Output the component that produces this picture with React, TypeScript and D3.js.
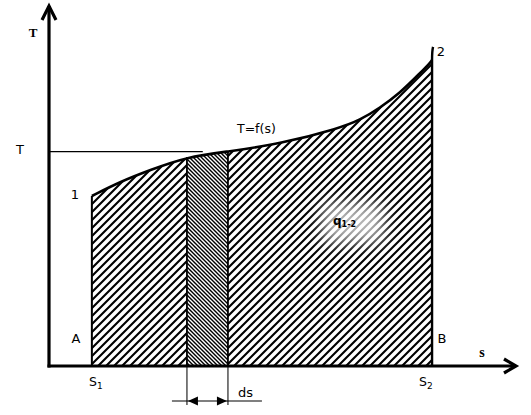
import React from "react";
import * as d3 from "d3";

// T = f(s) curve (s and T in 0..100 units)
const curveS = [9.2, 15.2, 21.7, 29.6, 38.4, 49.6, 62.4, 66.7, 71.0, 75.3, 79.6, 81.8, 82.2];
const curveT = [47.1, 51.0, 54.3, 57.9, 59.4, 61.5, 65.9, 68.1, 71.5, 75.6, 81.1, 84.0, 84.8];

const s1 = 9.2;
const s2 = 82.2;
const stripFrom = 29.6;
const stripTo = 38.4;
const tLevel = 59.4;
const tLevelEnd = 33.0;
const point2Top = 88.4;

const W = 531;
const H = 415;
const font = "'DejaVu Sans', Verdana, sans-serif";

const App = () => {
  const x = d3.scaleLinear().domain([0, 100]).range([49, 515]);
  const y = d3.scaleLinear().domain([0, 100]).range([366, 5]);

  const pts: [number, number][] = curveS.map((s, i) => [s, curveT[i]]);

  const area = d3
    .area<[number, number]>()
    .x(d => x(d[0]))
    .y0(y(0))
    .y1(d => y(d[1]))
    .curve(d3.curveBasis);

  const line = d3
    .line<[number, number]>()
    .x(d => x(d[0]))
    .y(d => y(d[1]))
    .curve(d3.curveBasis);

  const areaPath = area(pts) || "";

  // T value on the curve at a given s (for the strip edges)
  const tAt = (s: number) => {
    const i = d3.bisectLeft(curveS, s);
    if (i <= 0) return curveT[0];
    const a = curveS[i - 1], b = curveS[i];
    const k = (s - a) / (b - a || 1);
    return curveT[i - 1] + k * (curveT[i] - curveT[i - 1]);
  };

  const x0 = x(0), yAxis = y(0);
  const dimY = 401;

  return (
    <svg width={W} height={H} style={{position: "absolute", left: 0, top: 0, background: "#fff"}}
         fontFamily={font}>
      <defs>
        <pattern id="hatch" patternUnits="userSpaceOnUse" width="8" height="8">
          <path d="M-2,2 L2,-2 M0,8 L8,0 M6,10 L10,6" stroke="#000" strokeWidth="2.1"/>
        </pattern>
        <pattern id="hatchFine" patternUnits="userSpaceOnUse" width="4" height="4">
          <path d="M-1,-1 L5,5 M-1,3 L1,5 M3,-1 L5,1" stroke="#000" strokeWidth="1.4"/>
        </pattern>
        <clipPath id="strip">
          <rect x={x(stripFrom)} y={0} width={x(stripTo) - x(stripFrom)} height={yAxis}/>
        </clipPath>
        <filter id="blur" x="-50%" y="-50%" width="200%" height="200%">
          <feGaussianBlur stdDeviation="8"/>
        </filter>
      </defs>

      {/* hatched area under the curve */}
      <path d={areaPath} fill="url(#hatch)"/>
      <g clipPath="url(#strip)">
        <path d={areaPath} fill="#fff"/>
        <path d={areaPath} fill="url(#hatchFine)"/>
      </g>

      {/* fuzzy white behind q label */}
      <rect x={322} y={203} width={62} height={40} fill="#fff" opacity={0.7} filter="url(#blur)"/>

      {/* curve */}
      <path d={line(pts) || ""} fill="none" stroke="#000" strokeWidth={2.6}/>

      {/* left and right boundaries */}
      <line x1={x(s1)} x2={x(s1)} y1={y(curveT[0])} y2={yAxis} stroke="#000" strokeWidth={2}/>
      <path d={`M${x(s2)},${yAxis} L${x(s2)},${y(curveT[curveT.length - 1])} Q${x(s2)},${y(point2Top) + 4} ${x(s2) + 1},${y(point2Top)}`}
            fill="none" stroke="#000" strokeWidth={2.4}/>

      {/* strip edges and dimension */}
      {[stripFrom, stripTo].map((s, i) => (
        <g key={i}>
          <line x1={x(s)} x2={x(s)} y1={y(tAt(s))} y2={yAxis} stroke="#000" strokeWidth={1.8}/>
          <line x1={x(s)} x2={x(s)} y1={yAxis} y2={405} stroke="#444" strokeWidth={1.4}/>
        </g>
      ))}
      <line x1={x(stripFrom) - 15} x2={x(stripTo) + 34} y1={dimY} y2={dimY} stroke="#000" strokeWidth={1.2}/>
      <path d={`M${x(stripFrom) + 1},${dimY} L${x(stripFrom) + 11},${dimY - 4.5} L${x(stripFrom) + 11},${dimY + 4.5} Z`} fill="#000"/>
      <path d={`M${x(stripTo) - 1},${dimY} L${x(stripTo) - 11},${dimY - 4.5} L${x(stripTo) - 11},${dimY + 4.5} Z`} fill="#000"/>

      {/* T level line */}
      <line x1={x0} x2={x(tLevelEnd)} y1={y(tLevel)} y2={y(tLevel)} stroke="#000" strokeWidth={1.2}/>

      {/* axes */}
      <line x1={x0} x2={x0} y1={yAxis + 1.5} y2={6} stroke="#000" strokeWidth={3.2}/>
      <path d={`M${x0 - 7},20 L${x0},6 L${x0 + 7},20`} fill="none" stroke="#000" strokeWidth={3.2}/>
      <line x1={x0 - 1.5} x2={516} y1={yAxis} y2={yAxis} stroke="#000" strokeWidth={3.2}/>
      <path d={`M504,359 L516,${yAxis} L504,373`} fill="none" stroke="#000" strokeWidth={3.2}/>

      {/* labels */}
      <text x={33} y={37} fontSize={13} fontWeight="bold" textAnchor="middle" fontFamily="'Liberation Serif', serif">T</text>
      <text x={482} y={357} fontSize={14} fontWeight="bold" textAnchor="middle" fontFamily="'Liberation Serif', serif">s</text>
      <text x={20} y={154} fontSize={13} textAnchor="middle">T</text>
      <text x={75} y={199} fontSize={13} textAnchor="middle">1</text>
      <text x={441} y={56} fontSize={13} textAnchor="middle">2</text>
      <text x={76} y={343} fontSize={13} textAnchor="middle">A</text>
      <text x={442} y={343} fontSize={13} textAnchor="middle">B</text>
      <text x={237} y={133} fontSize={12.5}>T=f(s)</text>
      <text x={238} y={397} fontSize={13}>ds</text>
      <text x={89} y={386} fontSize={12.5}>S<tspan fontSize={9} dy={3}>1</tspan></text>
      <text x={419} y={386} fontSize={12.5}>S<tspan fontSize={9} dy={3}>2</tspan></text>
      <text x={333} y={225} fontSize={12} fontWeight="bold">q<tspan fontSize={8} dy={2}>1-2</tspan></text>
    </svg>
  );
};

export default App;
